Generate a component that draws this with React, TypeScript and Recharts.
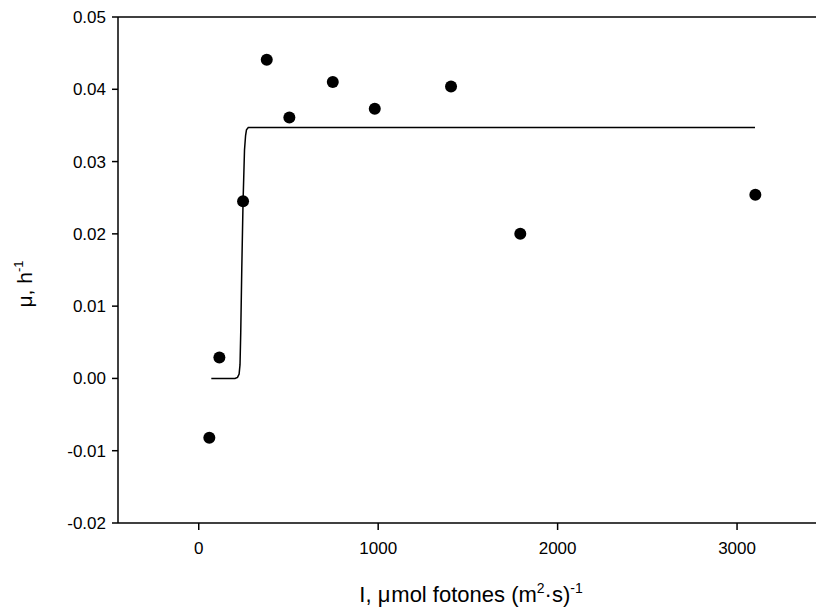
import React from 'react';
import { ComposedChart, XAxis, YAxis, Scatter, Line, ReferenceLine, Label } from 'recharts';

// Measured growth rate at each irradiance
const irradiance = [59, 115, 247, 379, 505, 747, 981, 1406, 1792, 3102];
const growthRate = [-0.0082, 0.0029, 0.0245, 0.0441, 0.0361, 0.041, 0.0373, 0.0404, 0.02, 0.0254];

// Fitted model curve
const fitIrradiance = [70, 202, 216, 225, 230, 234, 240, 247, 255, 261, 266, 276, 3100];
const fitGrowth = [0, 0, 0.00014, 0.0006, 0.0019, 0.0063, 0.0154, 0.0245, 0.0316, 0.0336, 0.0344, 0.0347, 0.0347];

const xTicks = [0, 1000, 2000, 3000];
const yTicks = [-0.02, -0.01, 0, 0.01, 0.02, 0.03, 0.04, 0.05];

const measured = irradiance.map((x, i) => ({ x, y: growthRate[i] }));
const fitted = fitIrradiance.map((x, i) => ({ x, y: fitGrowth[i] }));

const FONT = '"Liberation Sans", Arial, sans-serif';

const XTitle = (props: any) => {
  const vb = props.viewBox || {};
  const cx = vb.x + vb.width / 2 + 4;
  const y = vb.y + 79;
  return (
    <text x={cx} y={y} textAnchor="middle" fontFamily={FONT} fontSize={22} fill="#000">
      <tspan>I, </tspan>
      <tspan letterSpacing={1}>μ</tspan>
      <tspan>mol fotones (m</tspan>
      <tspan dy={-9} fontSize={14}>2</tspan>
      <tspan dy={9}>·s)</tspan>
      <tspan dy={-9} fontSize={14}>-1</tspan>
    </text>
  );
};

const YTitle = (props: any) => {
  const vb = props.viewBox || {};
  const cx = 32;
  const cy = vb.y + vb.height / 2 + 14;
  return (
    <text
      x={cx}
      y={cy}
      textAnchor="middle"
      fontFamily={FONT}
      fontSize={21}
      fill="#000"
      transform={`rotate(-90 ${cx} ${cy})`}
    >
      <tspan>μ, h</tspan>
      <tspan dy={-9} fontSize={13}>-1</tspan>
    </text>
  );
};

export default function App() {
  return (
    <div style={{ position: 'absolute', left: 0, top: 0, background: '#fff' }}>
      <ComposedChart width={816} height={612} margin={{ top: 17, right: 0, left: 0, bottom: 0 }}>
        <XAxis
          type="number"
          dataKey="x"
          domain={[-450, 3440]}
          ticks={xTicks}
          allowDataOverflow
          height={89}
          tickSize={7}
          tickMargin={12}
          stroke="#000"
          strokeWidth={1.5}
          tick={{ fill: '#000', fontSize: 17, fontFamily: FONT }}
        >
          <Label content={<XTitle />} />
        </XAxis>
        <YAxis
          type="number"
          dataKey="y"
          domain={[-0.02, 0.05]}
          ticks={yTicks}
          allowDataOverflow
          width={118}
          tickSize={6}
          tickMargin={6}
          stroke="#000"
          strokeWidth={1.5}
          tickFormatter={(v: number) => v.toFixed(2)}
          tick={{ fill: '#000', fontSize: 17, fontFamily: FONT }}
        >
          <Label content={<YTitle />} />
        </YAxis>
        <ReferenceLine y={0.05} stroke="#000" strokeWidth={1.5} />
        <Line
          data={fitted}
          dataKey="y"
          type="linear"
          stroke="#000"
          strokeWidth={1.5}
          dot={false}
          isAnimationActive={false}
        />
        <Scatter
          data={measured}
          dataKey="y"
          fill="#000"
          isAnimationActive={false}
          shape={(p: any) => <circle cx={p.cx} cy={p.cy} r={6} fill="#000" />}
        />
      </ComposedChart>
    </div>
  );
}
